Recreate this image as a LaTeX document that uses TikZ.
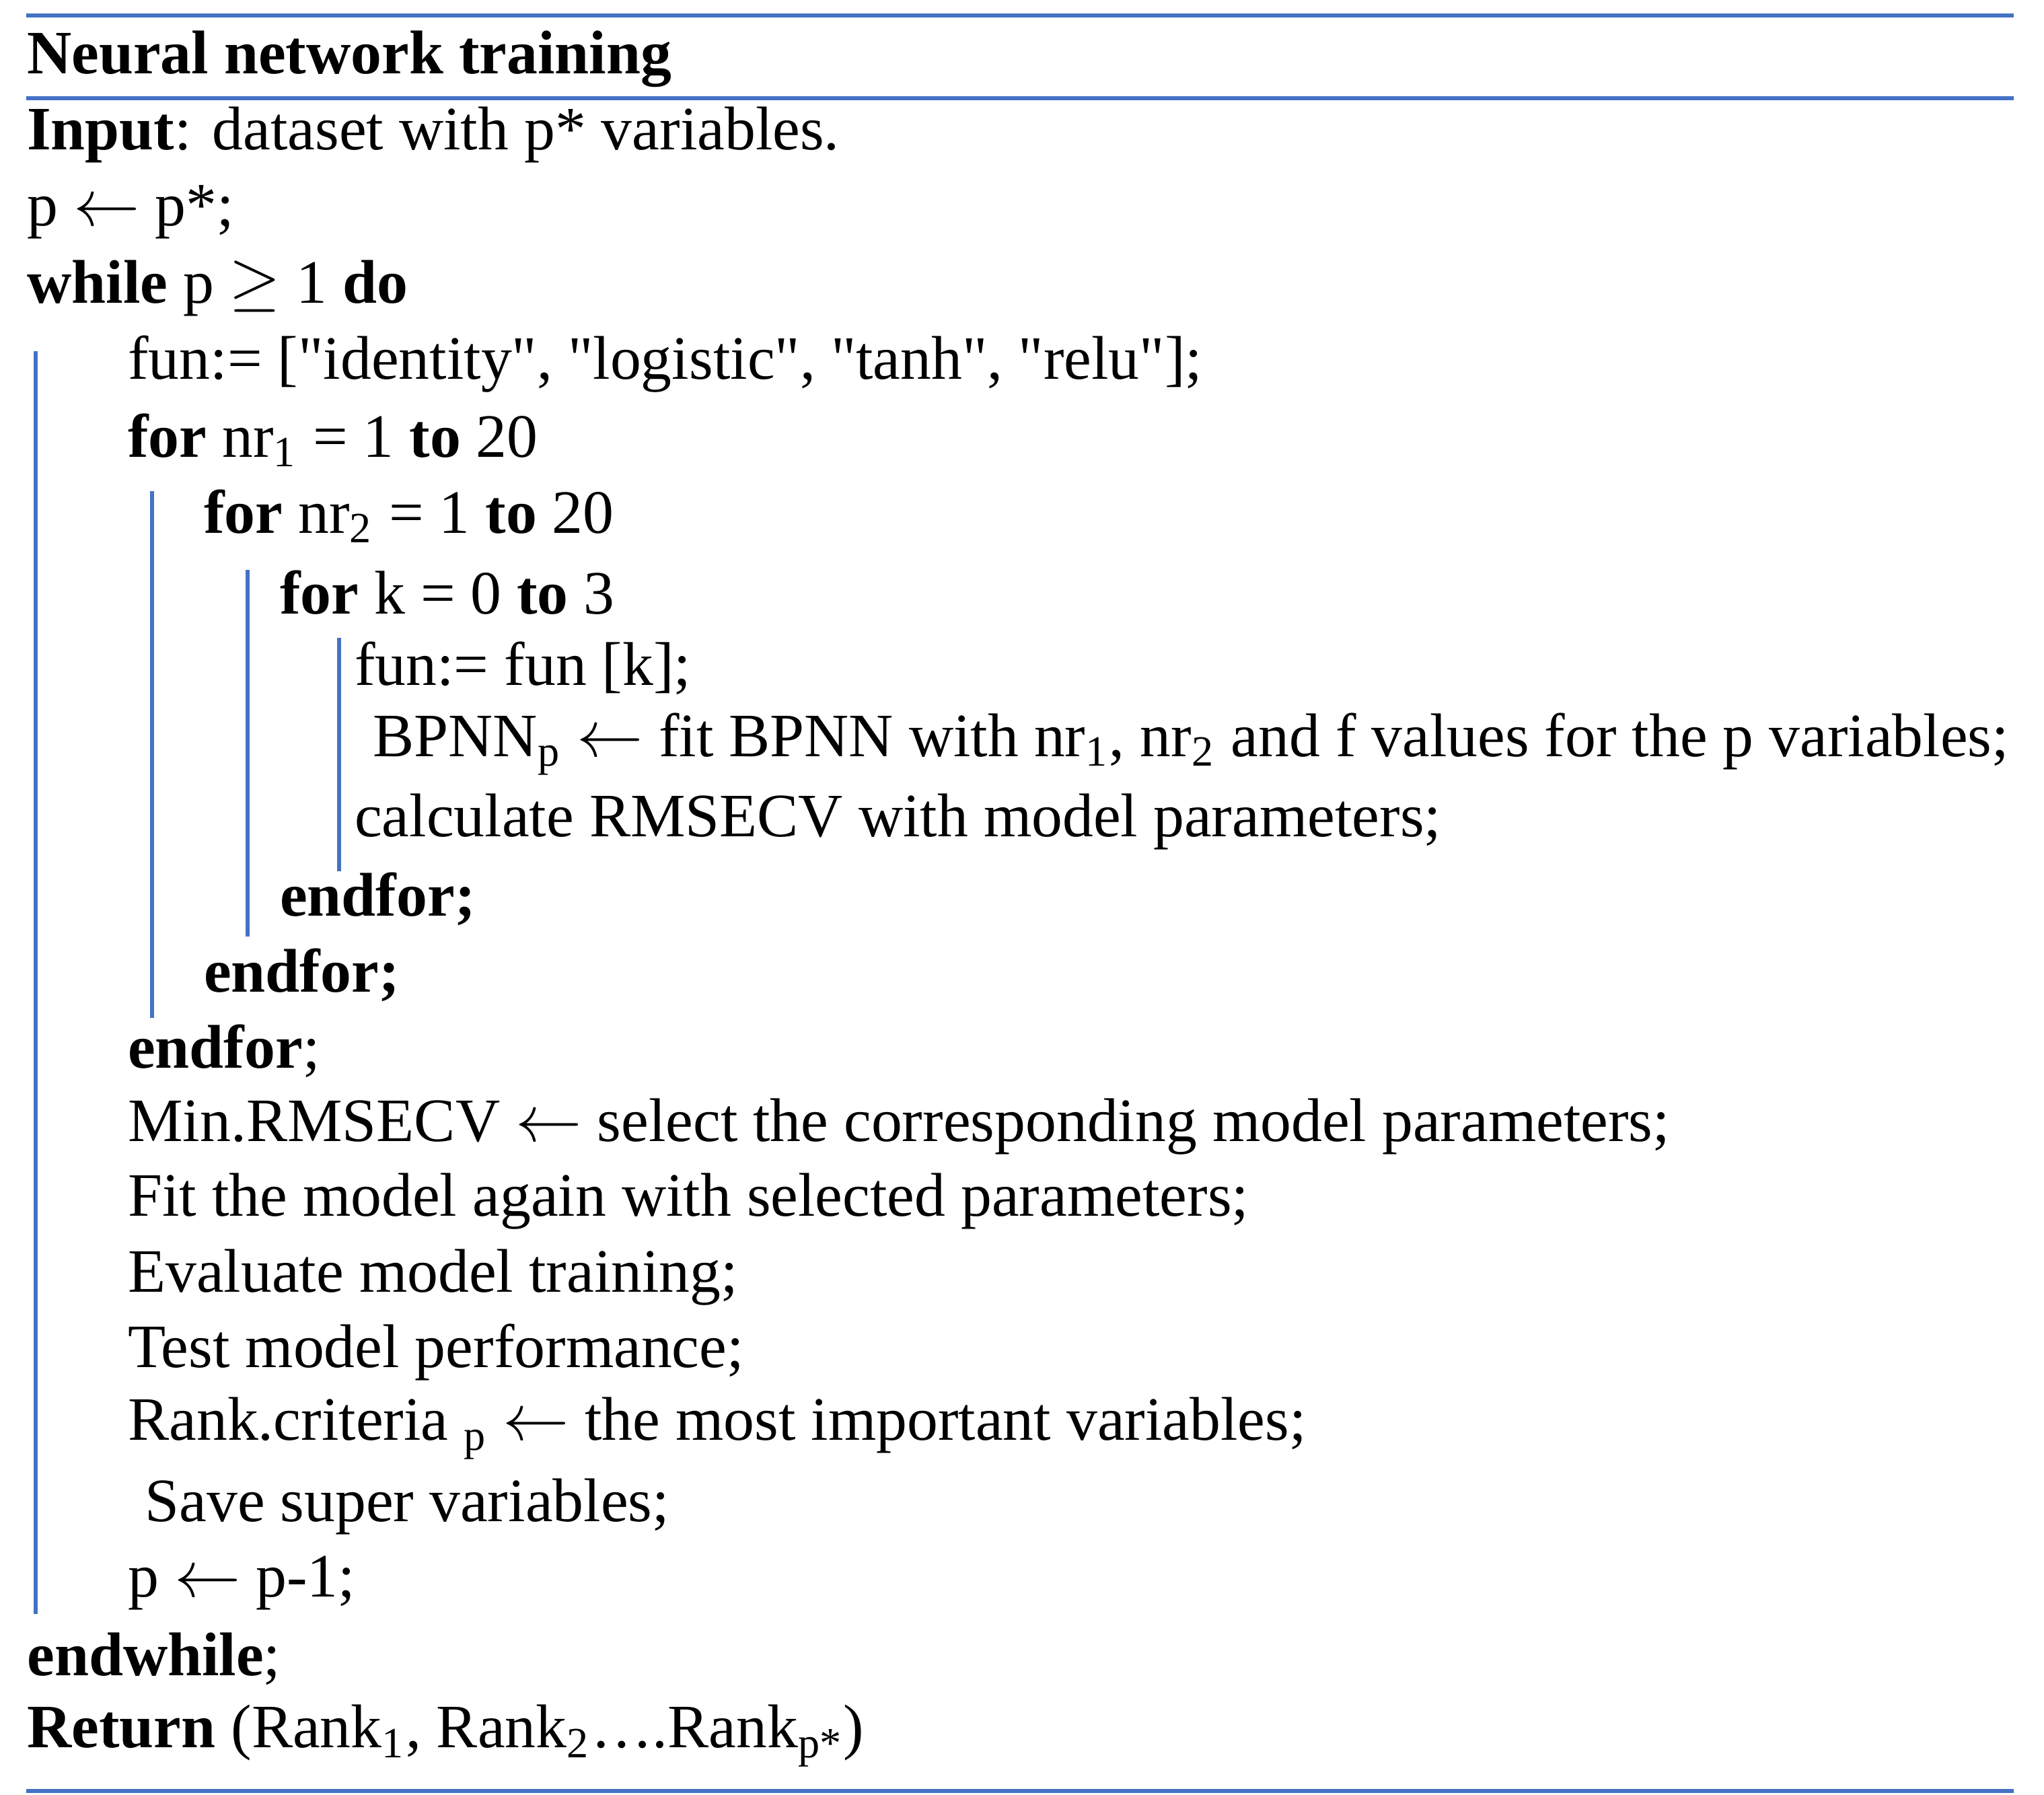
\documentclass[tikz,border=0pt]{standalone}
\usepackage{fontspec}
\setmainfont{Liberation Serif}
\usepackage{tikz}
\definecolor{ruleblue}{RGB}{68,114,196}
\newcommand{\qq}{\textquotedbl}
\tikzset{
  row/.style={anchor=west,inner sep=0pt,font=\fontsize{13.4}{16}\selectfont},
  hrule/.style={ruleblue,line width=0.9pt},
  vbar/.style={ruleblue,line width=0.9pt}
}
\begin{document}
\begin{tikzpicture}
  \useasboundingbox (0,0) rectangle (15.6,-13.695);
  % rules
  \coordinate (t1) at (0.2,-0.12); \coordinate (t2) at (15.37,-0.12);
  \coordinate (m1) at (0.2,-0.75); \coordinate (m2) at (15.37,-0.75);
  \coordinate (b1) at (0.2,-13.67); \coordinate (b2) at (15.37,-13.67);
  \draw[hrule] (t1) -- (t2);
  \draw[hrule] (m1) -- (m2);
  \draw[hrule] (b1) -- (b2);

  \node[row] (title) at (0.2,-0.45) {\textbf{Neural network training}};
  \node[row] (r1) at (0.2,-1.03) {\textbf{Input}: dataset with p* variables.};
  \node[row] (r2) at (0.2,-1.62) {p $\leftarrow$ p*;};
  \node[row] (r3) at (0.2,-2.20) {\textbf{while} p $\geq$ 1 \textbf{do}};
  \node[row] (r4) at (0.97,-2.78) {fun:= [\qq identity\qq, \qq logistic\qq, \qq tanh\qq, \qq relu\qq];};
  \node[row] (r5) at (0.97,-3.36) {\textbf{for} nr\textsubscript{1} = 1 \textbf{to} 20};
  \node[row] (r6) at (1.55,-3.94) {\textbf{for} nr\textsubscript{2} = 1 \textbf{to} 20};
  \node[row] (r7) at (2.13,-4.52) {\textbf{for} k = 0 \textbf{to} 3};
  \node[row] (r8) at (2.70,-5.10) {fun:= fun [k];};
  \node[row] (r9) at (2.84,-5.68) {BPNN\textsubscript{p} $\leftarrow$ fit BPNN with nr\textsubscript{1}, nr\textsubscript{2} and f values for the p variables;};
  \node[row] (r10) at (2.70,-6.27) {calculate RMSECV with model parameters;};
  \node[row] (r11) at (2.13,-6.86) {\textbf{endfor;}};
  \node[row] (r12) at (1.55,-7.44) {\textbf{endfor;}};
  \node[row] (r13) at (0.97,-8.02) {\textbf{endfor};};
  \node[row] (r14) at (0.97,-8.60) {Min.RMSECV $\leftarrow$ select the corresponding model parameters;};
  \node[row] (r15) at (0.97,-9.17) {Fit the model again with selected parameters;};
  \node[row] (r16) at (0.97,-9.75) {Evaluate model training;};
  \node[row] (r17) at (0.97,-10.32) {Test model performance;};
  \node[row] (r18) at (0.97,-10.90) {Rank.criteria \textsubscript{p} $\leftarrow$ the most important variables;};
  \node[row] (r19) at (1.10,-11.50) {Save super variables;};
  \node[row] (r20) at (0.97,-12.08) {p $\leftarrow$ p-1;};
  \node[row] (r21) at (0.2,-12.66) {\textbf{endwhile};};
  \node[row] (r22) at (0.2,-13.25) {\textbf{Return} (Rank\textsubscript{1}, Rank\textsubscript{2}\dots.Rank\textsubscript{p*})};

  % block bars
  \coordinate (w1) at (0.27,-2.68);  \coordinate (w2) at (0.27,-12.32);
  \coordinate (f1) at (1.16,-3.75);  \coordinate (f2) at (1.16,-7.77);
  \coordinate (g1) at (1.89,-4.35);  \coordinate (g2) at (1.89,-7.15);
  \coordinate (h1) at (2.59,-4.87);  \coordinate (h2) at (2.59,-6.65);
  \draw[vbar] (w1) -- (w2);
  \draw[vbar] (f1) -- (f2);
  \draw[vbar] (g1) -- (g2);
  \draw[vbar] (h1) -- (h2);
\end{tikzpicture}
\end{document}
